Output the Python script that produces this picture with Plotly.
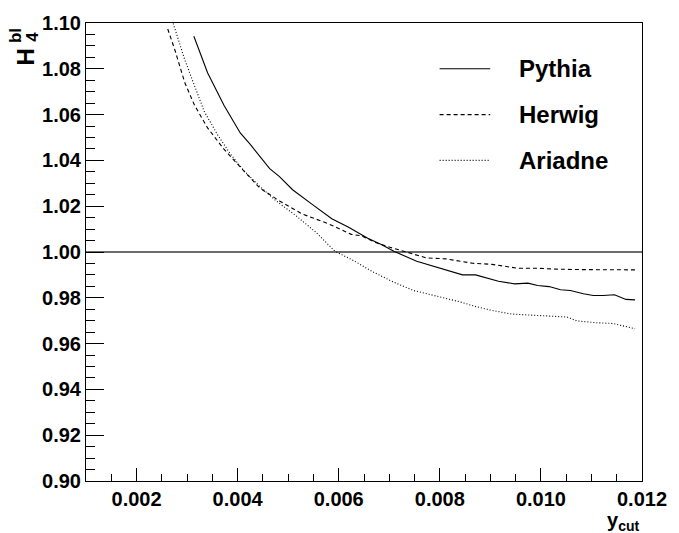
import plotly.graph_objects as go

# ---------------- data ----------------
pythia_x = [0.003134, 0.003405, 0.003729, 0.004052, 0.004246, 0.004634, 0.004828, 0.005087,
            0.005475, 0.005863, 0.006186, 0.006574, 0.006833, 0.007091, 0.007543, 0.007802,
            0.008190, 0.008449, 0.008707, 0.009160, 0.009483, 0.009742, 0.009936, 0.010162,
            0.010389, 0.010583, 0.010842, 0.011035, 0.011229, 0.011456, 0.011682, 0.011863]
pythia_y = [1.0942, 1.0783, 1.0641, 1.0520, 1.0471, 1.0364, 1.0329, 1.0272,
            1.0208, 1.0145, 1.0109, 1.0060, 1.0034, 1.0003, 0.9960, 0.9942,
            0.9915, 0.9900, 0.9900, 0.9872, 0.9861, 0.9864, 0.9854, 0.9849,
            0.9835, 0.9832, 0.9818, 0.9810, 0.9810, 0.9813, 0.9793, 0.9791]

herwig_x = [0.002617, 0.002759, 0.002953, 0.003147, 0.003405, 0.003729, 0.004052, 0.004440,
            0.004828, 0.005280, 0.005798, 0.006250, 0.006444, 0.006768, 0.007026, 0.007285,
            0.007737, 0.008125, 0.008643, 0.009031, 0.009548, 0.009936, 0.010324, 0.010842,
            0.011229, 0.011617, 0.011863]
herwig_y = [1.0974, 1.0882, 1.0740, 1.0641, 1.0542, 1.0449, 1.0371, 1.0279,
            1.0223, 1.0166, 1.0123, 1.0077, 1.0071, 1.0038, 1.0020, 1.0003,
            0.9974, 0.9970, 0.9951, 0.9946, 0.9929, 0.9929, 0.9925, 0.9923,
            0.9923, 0.9920, 0.9922]

ariadne_x = [0.002726, 0.002953, 0.003147, 0.003341, 0.003599, 0.003857, 0.004116, 0.004440,
             0.004763, 0.005151, 0.005539, 0.005927, 0.006315, 0.006703, 0.007091, 0.007479,
             0.007996, 0.008384, 0.008707, 0.009031, 0.009419, 0.009936, 0.010518, 0.010712,
             0.011100, 0.011423, 0.011682, 0.011863]
ariadne_y = [1.0998, 1.0840, 1.0726, 1.0613, 1.0513, 1.0428, 1.0357, 1.0286,
             1.0223, 1.0159, 1.0088, 1.0003, 0.9960, 0.9910, 0.9868, 0.9832,
             0.9804, 0.9783, 0.9762, 0.9745, 0.9729, 0.9722, 0.9716, 0.9699,
             0.9691, 0.9688, 0.9674, 0.9665]

series_names = ["Pythia", "Herwig", "Ariadne"]
x_range = [0.001, 0.012]
y_range = [0.90, 1.10]
reference_level = 1.0

# ---------------- figure ----------------
W, H = 679, 533
ML, MR, MT, MB = 86, 26, 12, 52

fig = go.Figure()
fig.add_trace(go.Scatter(x=x_range, y=[reference_level, reference_level], mode="lines",
                         line=dict(color="#3a3a3a", width=1.3), showlegend=False, hoverinfo="skip"))

styles = [dict(color="black", width=1.1, dash="solid"),
          dict(color="black", width=1.1, dash="4px,3px"),
          dict(color="black", width=1.1, dash="1px,2px")]
for name, xs, ys, st in zip(series_names, [pythia_x, herwig_x, ariadne_x],
                            [pythia_y, herwig_y, ariadne_y], styles):
    fig.add_trace(go.Scatter(x=xs, y=ys, mode="lines", name=name, line=st, showlegend=False))

# custom legend (ROOT style)
leg_y = [0.900, 0.800, 0.700]
for name, st, yy in zip(series_names, styles, leg_y):
    fig.add_shape(type="line", xref="paper", yref="paper", x0=0.636, x1=0.727, y0=yy, y1=yy,
                  line=st)
    fig.add_annotation(xref="paper", yref="paper", x=0.776, y=yy, text=name, showarrow=False,
                       xanchor="left", yanchor="middle",
                       font=dict(family="Liberation Sans", size=24, color="black", weight="bold"))

tickfont = dict(family="Liberation Sans", size=20, color="black", weight="bold")
fig.update_xaxes(range=x_range, showgrid=False, zeroline=False, showline=True, linecolor="black",
                 linewidth=1, mirror=True, ticks="inside", ticklen=13, tickwidth=1, tickcolor="black",
                 tick0=0, dtick=0.002, tickformat=".3f", tickfont=tickfont,
                 minor=dict(ticks="inside", ticklen=7, dtick=0.0005, tick0=0, tickcolor="black", showgrid=False))
fig.update_yaxes(range=y_range, showgrid=False, zeroline=False, showline=True, linecolor="black",
                 linewidth=1, mirror=True, ticks="inside", ticklen=18, tickwidth=1, tickcolor="black",
                 tick0=0.9, dtick=0.02, tickformat=".2f", tickfont=tickfont,
                 minor=dict(ticks="inside", ticklen=9, dtick=0.005, tick0=0.9, tickcolor="black", showgrid=False))

pw, ph = W - ML - MR, H - MT - MB
def px2paper(px, py):
    return (px - ML) / pw, (H - MB - py) / ph

# y-axis title H_4^bl (stacked sub/superscript)
tf = dict(family="Liberation Sans", color="black", weight="bold")
hx, hy = px2paper(24, 47)
fig.add_annotation(xref="paper", yref="paper", x=hx, y=hy, text="H", textangle=-90, showarrow=False,
                   xanchor="center", yanchor="middle", font=dict(size=24, **tf))
bx, by = px2paper(14, 25)
fig.add_annotation(xref="paper", yref="paper", x=bx, y=by, text="bl", textangle=-90, showarrow=False,
                   xanchor="center", yanchor="middle", font=dict(size=17, **tf))
sx, sy = px2paper(32, 26)
fig.add_annotation(xref="paper", yref="paper", x=sx, y=sy, text="4", textangle=-90, showarrow=False,
                   xanchor="center", yanchor="middle", font=dict(size=17, **tf))

# x-axis title y_cut
tx, ty = px2paper(652, 522)
fig.add_annotation(xref="paper", yref="paper", x=tx, y=ty, text="y<sub>cut</sub>", showarrow=False,
                   xanchor="right", yanchor="middle", font=dict(size=20, **tf))

fig.update_layout(width=W, height=H, margin=dict(l=ML, r=MR, t=MT, b=MB),
                  plot_bgcolor="white", paper_bgcolor="white", showlegend=False)

fig.write_html("out.html")
